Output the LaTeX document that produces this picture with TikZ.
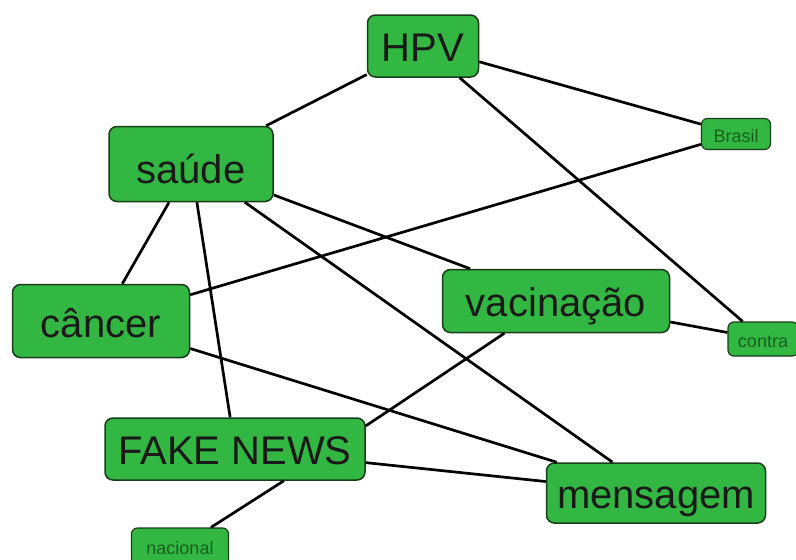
\documentclass[tikz,border=0pt]{standalone}
\usepackage{fontspec}
\setmainfont{Liberation Sans}
\usepackage{tikz}
\definecolor{boxgreen}{RGB}{50,184,66}
\definecolor{boxline}{RGB}{25,60,25}
\definecolor{smalltext}{RGB}{22,95,30}

\begin{document}
\begin{tikzpicture}[x=1pt, y=-1pt, bignode/.style={rectangle, rounded corners=8pt, draw=boxline, fill=boxgreen, line width=1.5pt, inner sep=0pt, text height=30pt, text depth=0pt, text=black!90, font=\fontsize{40}{48}\selectfont}, smallnode/.style={rectangle, rounded corners=6pt, draw=boxline, fill=boxgreen, line width=1.2pt, inner sep=0pt, text height=16pt, text depth=0pt, text=smalltext, font=\fontsize{18}{20}\selectfont}, link/.style={line width=2.7pt, black}]
    \useasboundingbox (0,0) rectangle (796,560);
    
    %Nodes
    \node[bignode, minimum width=111pt, minimum height=62pt](hpv) at (423,46){HPV};
    \node[bignode, minimum width=164pt, minimum height=75pt, text height=38pt](saude) at (191,164){saúde};
    \node[smallnode, minimum width=69pt, minimum height=31pt](brasil) at (736,134){Brasil};
    \node[bignode, minimum width=177pt, minimum height=73pt, text height=32pt](cancer) at (101,321){câncer};
    \node[bignode, minimum width=227pt, minimum height=63pt](vacinacao) at (556,301){vacinação};
    \node[smallnode, minimum width=70pt, minimum height=34pt](contra) at (763,339){contra};
    \node[bignode, minimum width=260pt, minimum height=62pt](fake) at (235,449){FAKE NEWS};
    \node[bignode, minimum width=219pt, minimum height=60pt](mensagem) at (656,493){mensagem};
    \node[smallnode, minimum width=97pt, minimum height=36pt](nacional) at (180,546){nacional};
    
    %Lines
    \draw[link] (hpv) -- (saude);
    \draw[link] (hpv) -- (brasil);
    \draw[link] (hpv) -- (contra);
    \draw[link] (saude) -- (cancer);
    \draw[link] (saude) -- (fake);
    \draw[link] (saude) -- (vacinacao);
    \draw[link] (saude) -- (mensagem);
    \draw[link] (cancer) -- (brasil);
    \draw[link] (cancer) -- (mensagem);
    \draw[link] (vacinacao.-148) -- (fake.10);
    \draw[link] (vacinacao) -- (contra);
    \draw[link] (fake) -- (mensagem);
    \draw[link] (fake.-33) -- (nacional.31);
    
\end{tikzpicture}
\end{document}
